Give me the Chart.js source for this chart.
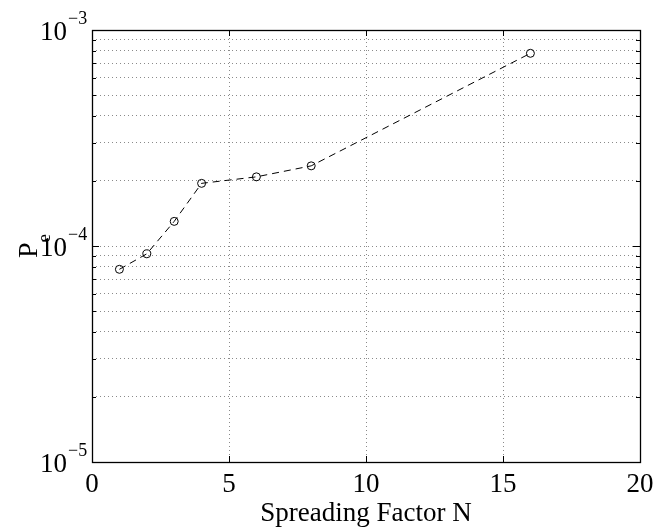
<!DOCTYPE html>
<html>
<head>
<meta charset="utf-8">
<script src="https://cdn.jsdelivr.net/npm/chart.js@4/dist/chart.umd.min.js"></script>
<style>
  html, body { margin: 0; padding: 0; background: #ffffff; }
  canvas { display: block; }
</style>
</head>
<body>
<canvas id="peChart" width="658" height="527"></canvas>
<script>
// values
var spreadingFactor = [1, 2, 3, 4, 6, 8, 16];
var errorProb = [7.8e-5, 9.2e-5, 1.3e-4, 1.95e-4, 2.09e-4, 2.35e-4, 7.8e-4];

var xTicks = [0, 5, 10, 15, 20];
var yTicks = [1e-5, 2e-5, 3e-5, 4e-5, 5e-5, 6e-5, 7e-5, 8e-5, 9e-5,
              1e-4, 2e-4, 3e-4, 4e-4, 5e-4, 6e-4, 7e-4, 8e-4, 9e-4, 1e-3];
var yDecades = [1e-5, 1e-4, 1e-3];
var yExponents = ['\u22125', '\u22124', '\u22123'];
var xTitle = 'Spreading Factor N';

var serif = "'Liberation Serif', 'Times New Roman', serif";

var pts = spreadingFactor.map((n, i) => ({ x: n, y: errorProb[i] }));

// frame, inward tick marks, y labels with superscripts, axis titles
var matlabFrame = {
    id: 'matlabFrame',
    afterDraw(chart) {
        const ctx = chart.ctx;
        const a = chart.chartArea;
        const xs = chart.scales.x;
        const ys = chart.scales.y;
        ctx.save();
        ctx.strokeStyle = '#000';
        ctx.lineWidth = 1;
        ctx.setLineDash([]);
        ctx.beginPath();
        yTicks.forEach((v) => {
            const py = Math.round(ys.getPixelForValue(v)) + 0.5;
            const len = yDecades.includes(v) ? 7 : 4;
            ctx.moveTo(a.left, py); ctx.lineTo(a.left + len, py);
            ctx.moveTo(a.right, py); ctx.lineTo(a.right - len, py);
        });
        xTicks.forEach((v) => {
            const px = Math.round(xs.getPixelForValue(v)) + 0.5;
            ctx.moveTo(px, a.bottom); ctx.lineTo(px, a.bottom - 6);
            ctx.moveTo(px, a.top); ctx.lineTo(px, a.top + 6);
        });
        ctx.stroke();
        ctx.lineWidth = 1.3;
        ctx.strokeRect(Math.round(a.left) + 0.5, Math.round(a.top) + 0.5,
            Math.round(a.right - a.left), Math.round(a.bottom - a.top));

        ctx.fillStyle = '#000';
        ctx.textBaseline = 'alphabetic';
        yDecades.forEach((v, i) => {
            const py = ys.getPixelForValue(v);
            ctx.font = '27px ' + serif;
            ctx.textAlign = 'right';
            ctx.fillText('10', 67, py + 10);
            ctx.font = '18px ' + serif;
            ctx.textAlign = 'left';
            ctx.fillText(yExponents[i], 68, py - 6);
        });

        // x title
        ctx.font = '27px ' + serif;
        ctx.textAlign = 'center';
        ctx.fillText(xTitle, (a.left + a.right) / 2, 521);

        // y title P_e, rotated
        ctx.translate(37, (a.top + a.bottom) / 2 + 12);
        ctx.rotate(-Math.PI / 2);
        ctx.textAlign = 'left';
        ctx.font = '28px ' + serif;
        ctx.fillText('P', 0, 0);
        const w = ctx.measureText('P').width;
        ctx.font = '19px ' + serif;
        ctx.fillText('e', w, 13);
        ctx.restore();
    }
};

var ctx = document.getElementById('peChart').getContext('2d');
var peChart = new Chart(ctx, {
    type: 'line',
    data: {
        datasets: [{
            label: 'Pe',
            data: pts,
            borderColor: '#000000',
            borderWidth: 1,
            borderDash: [7, 5],
            fill: false,
            tension: 0,
            pointStyle: 'circle',
            pointRadius: 4,
            pointBorderWidth: 1,
            pointBorderColor: '#000000',
            pointBackgroundColor: 'rgba(0,0,0,0)',
        }],
    },
    options: {
        responsive: false,
        animation: false,
        devicePixelRatio: 1,
        layout: {
            padding: { top: 30, right: 18, left: 0, bottom: 0 }
        },
        plugins: {
            legend: { display: false },
            tooltip: { enabled: false },
        },
        scales: {
            x: {
                type: 'linear',
                min: 0,
                max: 20,
                afterBuildTicks: (s) => { s.ticks = xTicks.map((v) => ({ value: v })); },
                afterFit: (s) => { s.height = 65; s.paddingLeft = 0; s.paddingRight = 0; },
                ticks: {
                    color: '#000',
                    font: { family: serif, size: 27, lineHeight: 1 },
                    padding: 9,
                    maxRotation: 0,
                    autoSkip: false,
                },
                grid: {
                    color: '#8a8a8a',
                    lineWidth: 1,
                    drawTicks: false,
                },
                border: { display: false, dash: [1, 3] },
            },
            y: {
                type: 'logarithmic',
                min: 1e-5,
                max: 1e-3,
                afterBuildTicks: (s) => { s.ticks = yTicks.map((v) => ({ value: v })); },
                afterFit: (s) => { s.width = 92; s.paddingTop = 0; s.paddingBottom = 0; },
                ticks: { display: false },
                grid: {
                    color: '#8a8a8a',
                    lineWidth: 1,
                    drawTicks: false,
                },
                border: { display: false, dash: [1, 3] },
            }
        }
    },
    plugins: [matlabFrame]
});
</script>
</body>
</html>
